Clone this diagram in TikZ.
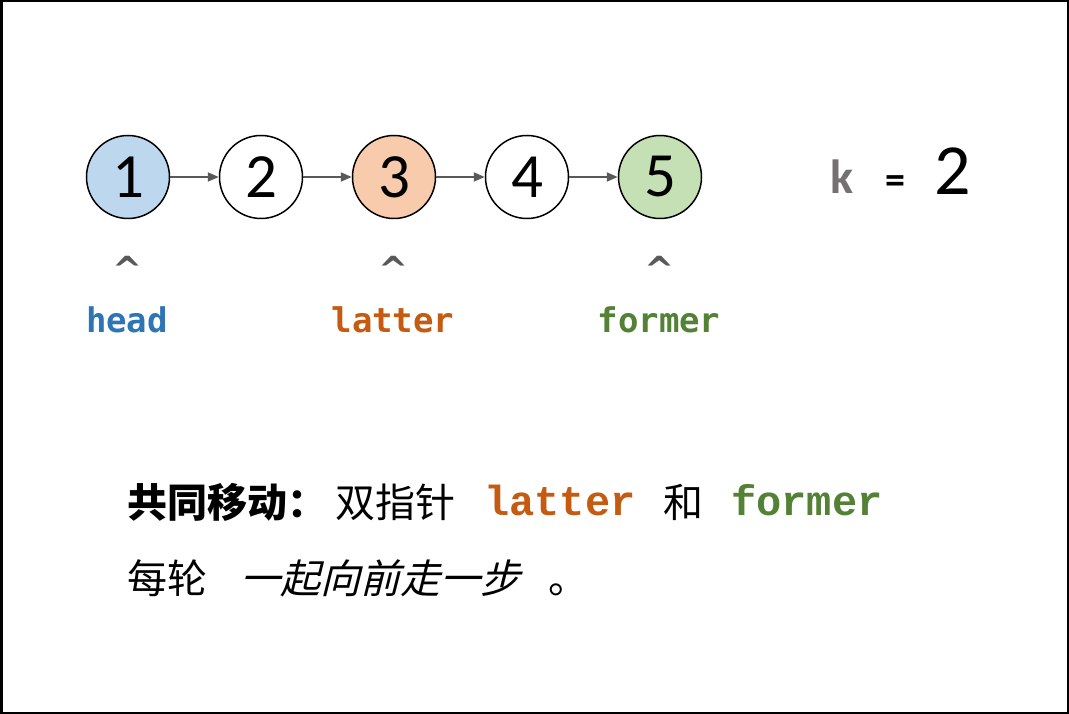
\documentclass[tikz,border=0pt]{standalone}
\usepackage{fontspec}
\setmainfont{Carlito}
\newfontfamily\labmono{DejaVu Sans Mono}
\newfontfamily\txtmono{Liberation Mono}
\newfontfamily\cjk{Noto Sans CJK SC}
\newfontfamily\cjkit[FakeSlant=0.25]{Noto Sans CJK SC}
\newfontfamily\caretfont{DejaVu Sans}
\usetikzlibrary{arrows.meta}
\definecolor{fillblue}{HTML}{BDD7EE}
\definecolor{fillorange}{HTML}{F8CBAD}
\definecolor{fillgreen}{HTML}{C5E0B4}
\definecolor{txtblue}{HTML}{2E75B6}
\definecolor{txtorange}{HTML}{C55A11}
\definecolor{txtgreen}{HTML}{538135}
\definecolor{kgray}{HTML}{767171}
\definecolor{arrgray}{HTML}{595959}
\begin{document}
\begin{tikzpicture}[x=1pt,y=-1pt,
  listnode/.style={circle, draw=black, line width=1.5pt, minimum size=83pt, inner sep=0pt,
    font=\fontsize{63}{63}\selectfont},
  link/.style={draw=arrgray, line width=2pt, -{Triangle[length=11pt,width=9pt]}},
  caret/.style={anchor=base, inner sep=0pt, text=arrgray, font=\caretfont\bfseries\fontsize{36}{36}\selectfont},
  ptrlabel/.style={anchor=base, inner sep=0pt, font=\labmono\bfseries\fontsize{34}{34}\selectfont},
  cjktext/.style={anchor=base west, inner sep=0pt, font=\cjk\fontsize{40}{40}\selectfont},
  cjkbold/.style={anchor=base west, inner sep=0pt, font=\cjk\bfseries\fontsize{40}{40}\selectfont},
  cjkslant/.style={anchor=base west, inner sep=0pt, font=\cjkit\fontsize{40}{40}\selectfont},
  codeword/.style={anchor=base west, inner sep=0pt, font=\txtmono\bfseries\fontsize{42}{42}\selectfont}
]
\useasboundingbox (0,0) rectangle (1069,714);
\draw[line width=2.5pt] (1.25,1.25) rectangle (1067.75,712.75);

% list nodes
\node[listnode, fill=fillblue] (n1) at (128,177) {1};
\node[listnode, fill=white] (n2) at (261,177) {2};
\node[listnode, fill=fillorange] (n3) at (394,177) {3};
\node[listnode, fill=white] (n4) at (527,177) {4};
\node[listnode, fill=fillgreen] (n5) at (660,177) {5};
\draw[link] (n1) -- (n2);
\draw[link] (n2) -- (n3);
\draw[link] (n3) -- (n4);
\draw[link] (n4) -- (n5);

% k = 2
\node[anchor=base west, inner sep=0pt, text=kgray, font=\bfseries\fontsize{48}{48}\selectfont] (kk) at (830,194) {k};
\node[anchor=base west, inner sep=0pt, font=\bfseries\fontsize{40}{40}\selectfont] (eq) at (885,194) {=};
\node[anchor=base west, inner sep=0pt, font=\fontsize{72}{72}\selectfont] (kv) at (934,195) {2};

% carets and pointer labels
\node[caret] (c1) at (128,283) {\textasciicircum};
\node[caret] (c3) at (394,283) {\textasciicircum};
\node[caret] (c5) at (660,283) {\textasciicircum};
\node[ptrlabel, text=txtblue] (head) at (127,332) {head};
\node[ptrlabel, text=txtorange] (latter) at (393,332) {latter};
\node[ptrlabel, text=txtgreen] (former) at (659,332) {former};

% description line 1
\node[cjkbold] (t1) at (127,517) {共同移动：};
\node[cjktext] (t2) at (335,517) {双指针};
\node[codeword, text=txtorange] (t3) at (484,515) {latter};
\node[cjktext] (t4) at (663,517) {和};
\node[codeword, text=txtgreen] (t5) at (731,515) {former};

% description line 2
\node[cjktext] (u1) at (127,593) {每轮};
\node[cjkslant] (u2) at (240,593) {一起向前走一步};
\node[cjktext] (u3) at (548,593) {。};
\end{tikzpicture}
\end{document}
